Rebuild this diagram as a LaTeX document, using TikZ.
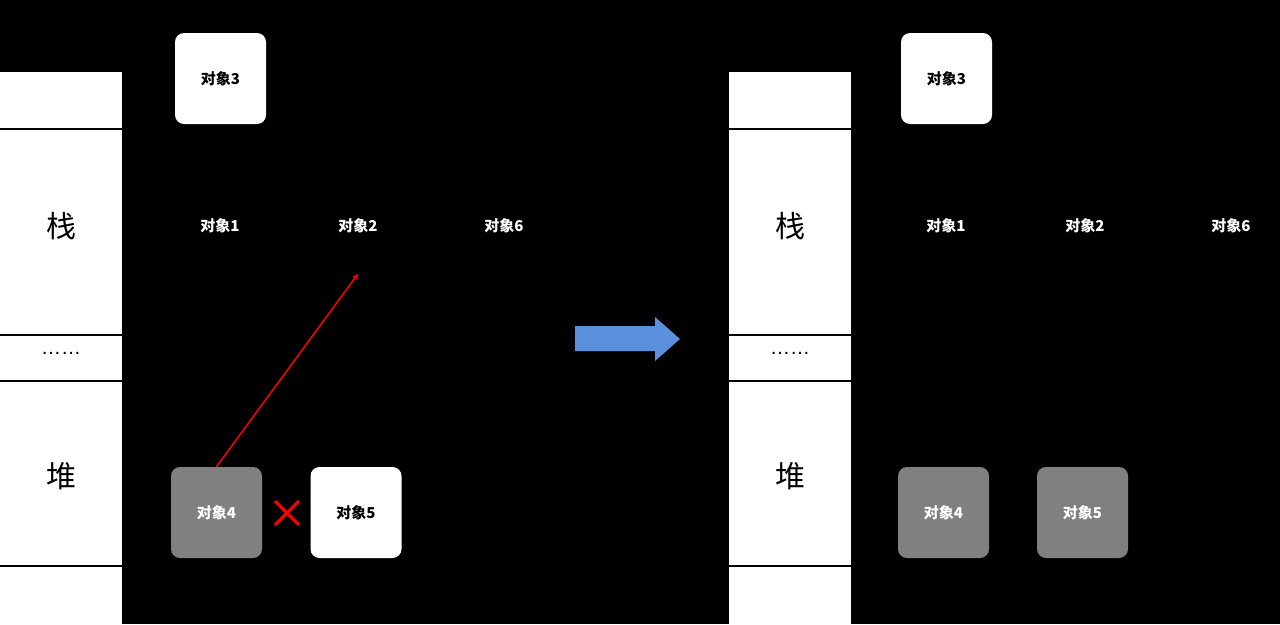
\documentclass[tikz,border=0pt]{standalone}
\usepackage{fontspec}
\setmainfont{Liberation Sans}
\newfontfamily\cjk{Noto Sans CJK SC}
\begin{document}
\begin{tikzpicture}[x=1pt,y=-1pt,
  cell/.style={fill=white,draw=none},
  obj/.style={rounded corners=9pt,minimum width=91pt,minimum height=91pt,inner sep=0pt,font=\cjk\bfseries\fontsize{15}{18}\selectfont},
  wobj/.style={obj,fill=white,text=black},
  gobj/.style={obj,fill=gray,text=white},
  lab/.style={text=white,font=\cjk\bfseries\fontsize{15}{18}\selectfont},
  big/.style={font=\cjk\fontsize{30}{34}\selectfont}]
\fill[black] (0,0) rectangle (1280,624);
\useasboundingbox (0,0) rectangle (1280,624);
\foreach \x/\n in {0/L,729/R}{
  \fill[white] (\x,72) rectangle ++(122,56);
  \fill[white] (\x,130) rectangle ++(122,204);
  \fill[white] (\x,336) rectangle ++(122,44);
  \fill[white] (\x,382) rectangle ++(122,183);
  \fill[white] (\x,567) rectangle ++(122,57);
  \node[big] (zhan\n) at (\x+61,226) {栈};
  \node[big] (dui\n) at (\x+61,476) {堆};
  \node[font=\fontsize{20}{24}\selectfont] (dots\n) at (\x+61,353) {……};
}
\node[wobj] (o3L) at (220.5,78.5) {对象3};
\node[lab] (o1L) at (220,226) {对象1};
\node[lab] (o2L) at (358,226) {对象2};
\node[lab] (o6L) at (504,226) {对象6};
\node[gobj] (o4L) at (216.5,512.5) {对象4};
\node[wobj] (o5L) at (356,512.5) {对象5};
\coordinate (tip) at (358,274);
\draw[red,line width=1.5pt,-stealth] (o4L.north) -- (tip);
\coordinate (xc) at (287,513);
\draw[red,line width=3pt] ([shift={(-12,-12)}]xc) -- ([shift={(12,12)}]xc)
  ([shift={(-12,12)}]xc) -- ([shift={(12,-12)}]xc);
\fill[blue!55!cyan!70!white,fill={rgb,255:red,91;green,145;blue,220}] (575,326) -- (655,326) -- (655,317) -- (680,339) -- (655,361) -- (655,351) -- (575,351) -- cycle;
\node[wobj] (o3R) at (946.5,78.5) {对象3};
\node[lab] (o1R) at (946,226) {对象1};
\node[lab] (o2R) at (1085,226) {对象2};
\node[lab] (o6R) at (1231,226) {对象6};
\node[gobj] (o4R) at (943.5,512.5) {对象4};
\node[gobj] (o5R) at (1082.5,512.5) {对象5};
\end{tikzpicture}
\end{document}
